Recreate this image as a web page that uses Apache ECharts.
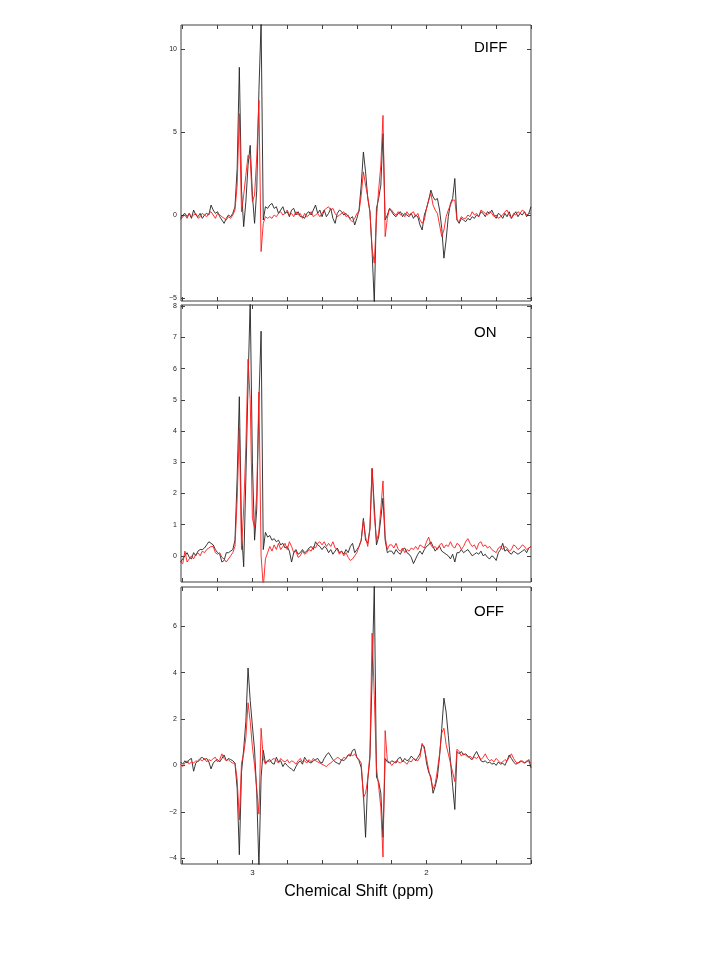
<!DOCTYPE html>
<html>
<head>
<meta charset="utf-8">
<title>DIFF / ON / OFF spectra</title>
<script src="https://cdn.jsdelivr.net/npm/echarts@6/dist/echarts.min.js"></script>
<style>
  html, body { margin: 0; padding: 0; background: #fff; }
  #chart { width: 720px; height: 960px; }
</style>
</head>
<body>
<div id="chart"></div>
<script>
// ppm grid: first point and spacing of the sampled spectrum
const ppmStart = 3.4125;
const ppmStep = 0.0125;

const diffBlack = [
  -0.2, 0.0, 0.1, -0.1, 0.1, -0.2, 0.3, 0.0, -0.1, 0.1, -0.2, 0.0, 0.1, 0.0, 0.6, 0.3, 0.1, 0.2, -0.1, -0.3, -0.5, -0.2, 0.0, -0.1, 0.1,
  0.5, 2.8, 8.9, 1.5, -0.7, 0.8, 3.0, 4.2, 1.2, -0.5, 1.5, 7.5, 11.6, -0.3, 0.5, 0.4,
  0.6, 0.7, 0.4, 0.5, 0.1, 0.3, 0.5, 0.1, 0.2, -0.1, 0.3, 0.4, 0.0, 0.2, -0.1,
  -0.1, -0.2, 0.1, 0.2, 0.0, 0.3, 0.6, 0.1, 0.3, -0.1, 0.3, -0.1, 0.1, 0.4, -0.2, -0.5, 0.1, 0.3, 0.2, 0.0, 0.1, -0.1, -0.2, -0.1, -0.6, -0.2,
  0.3, 1.8, 3.8, 2.6, 1.0, 0.2, -2.2, -5.3, 0.4, 1.0, 1.8, 4.9, -0.3, 0.0, 0.4,
  0.2, 0.0, -0.1, 0.1, 0.2, -0.1, 0.1, 0.0, -0.1, 0.1, -0.2, 0.0, -0.1, -0.6,
  -0.9, 0.0, 0.4, 0.9, 1.5, 1.1, 0.9, 1.0, 0.3, -0.8, -2.6, -1.5, -0.1, 0.7, 1.0, 2.2, -0.3, -0.5, -0.2, -0.3,
  -0.4, -0.2, -0.3, -0.1, -0.2, 0.0, -0.1, 0.2, 0.1, -0.1, 0.2, 0.1, 0.3, 0.0, -0.2, 0.1, 0.0, -0.2, 0.1, -0.1, 0.2, -0.2, 0.0, 0.2, -0.1, 0.1, 0.0, 0.2, -0.1, 0.1, 0.5
];
const diffRed = [
  -0.3, -0.1, 0.0, -0.2, 0.1, -0.1, 0.0, 0.1, -0.2, -0.1, 0.1, 0.0, -0.1, 0.1, 0.2, 0.0, -0.2, 0.1, 0.0, -0.1, -0.2, -0.3, -0.1, -0.2, 0.0,
  0.3, 1.8, 6.1, 0.2, 1.2, 2.4, 3.6, 3.4, 0.8, 1.2, 3.5, 6.9, -2.2, -0.5, -0.1, -0.2,
  -0.1, -0.2, 0.0, -0.1, 0.1, 0.2, 0.0, 0.1, 0.3, 0.0, 0.1, -0.1, 0.2, 0.0, 0.1,
  -0.2, 0.1, -0.1, 0.0, 0.2, -0.1, 0.0, 0.1, -0.1, 0.1, 0.3, 0.4, 0.5, 0.3, 0.4, 0.1, -0.1, 0.0, 0.1, 0.2, -0.1, 0.0, -0.3, -0.4, -0.2, 0.1,
  0.2, 1.2, 2.6, 1.8, 1.1, 0.2, -2.0, -2.9, -0.2, 1.5, 3.0, 6.0, -1.3, -0.2, 0.4,
  0.3, 0.1, 0.0, 0.2, 0.0, 0.1, -0.1, 0.2, 0.0, 0.1, 0.2, -0.1, 0.1, -0.3,
  -0.5, -0.3, 0.4, 0.9, 1.3, 0.6, 0.3, 0.1, -0.6, -1.3, -0.9, -0.1, 0.3, 0.6, 0.9, 0.9, -0.3, -0.4, -0.1, -0.2,
  -0.2, 0.0, -0.1, 0.2, 0.0, 0.1, -0.1, 0.3, 0.2, 0.1, 0.0, 0.2, 0.1, -0.1, 0.0, -0.2, -0.1, 0.0, 0.2, 0.3, 0.0, -0.2, 0.1, 0.0, 0.2, 0.1, 0.3, 0.2, 0.0, 0.1, 0.1
];

const onBlack = [
  -0.2, -0.1, 0.0, 0.1, -0.05, -0.1, 0.1, 0.0, 0.15, 0.2, 0.2, 0.25, 0.35, 0.45, 0.4, 0.35, 0.2, 0.1, 0.05, -0.2, -0.15, 0.1, 0.1, 0.15, 0.2,
  0.5, 2.5, 5.1, 0.8, -0.35, 2.5, 5.5, 8.2, 3.0, 0.5, 1.5, 5.0, 7.2, 0.2, 0.75, 0.6,
  0.65, 0.5, 0.55, 0.45, 0.5, 0.35, 0.4, 0.25, 0.3, 0.15, -0.2, 0.1, 0.2, 0.05, 0.1, 0.2, 0.1, 0.15, 0.25, 0.3,
  0.2, 0.45, 0.35, 0.3, 0.2, 0.3, 0.25, 0.1, 0.2, 0.05, 0.15, 0.25, 0.1, 0.15, 0.05, 0.2, 0.1, 0.3, 0.4, 0.1, 0.2,
  0.3, 0.5, 1.2, 0.5, 0.4, 0.85, 2.8, 1.6, 0.35, 0.6, 1.2, 1.85, 0.5, 0.1, 0.15,
  0.15, 0.05, 0.2, 0.1, 0.05, 0.2, 0.25, 0.1, 0.05, -0.05, -0.25, -0.1, 0.05, 0.15, 0.05, 0.2, 0.3, 0.35, 0.45, 0.3,
  0.15, 0.25, 0.3, 0.15, 0.1, 0.05, 0.0, -0.1, 0.05, -0.2, 0.1, 0.1, 0.2, 0.1, 0.15, 0.2, 0.1, 0.0, 0.05, 0.1,
  0.05, 0.15, 0.0, 0.05, -0.05, -0.1, 0.0, -0.05, -0.15, 0.1, 0.2, 0.4, 0.15, 0.2, 0.1, 0.05, 0.15, 0.1, 0.05, 0.1,
  0.15, 0.2, 0.1, 0.25, 0.3
];
const onRed = [
  -0.2, -0.25, 0.15, -0.2, -0.1, 0.0, -0.1, 0.05, 0.1, 0.0, 0.15, 0.1, 0.2, 0.25, 0.3, 0.3, 0.1, 0.05, 0.1, -0.05, -0.1, -0.2, -0.1, 0.0, 0.1,
  0.3, 1.8, 4.1, 0.2, 1.5, 3.5, 6.3, 5.0, 1.2, 0.9, 2.0, 5.25, 0.0, -1.0, -0.1, 0.1,
  0.3, 0.15, 0.35, 0.2, 0.4, 0.2, 0.3, 0.4, 0.2, 0.45, 0.3, 0.1, 0.15, -0.05, 0.0, 0.15, 0.05, 0.1, 0.2, 0.15,
  0.3, 0.25, 0.4, 0.45, 0.35, 0.45, 0.3, 0.4, 0.3, 0.45, 0.25, 0.2, 0.05, 0.15, 0.0, 0.1, -0.05, -0.15, -0.1, 0.0, 0.1,
  0.3, 0.5, 1.15, 0.6, 0.3, 0.9, 2.8, 1.3, 0.5, 0.7, 1.5, 2.4, 0.6, 0.2, 0.35,
  0.35, 0.25, 0.4, 0.2, 0.15, 0.25, 0.1, 0.2, 0.15, 0.25, 0.2, 0.3, 0.2, 0.35, 0.3, 0.25, 0.45, 0.6, 0.35, 0.25,
  0.3, 0.2, 0.35, 0.4, 0.25, 0.35, 0.3, 0.45, 0.3, 0.25, 0.4, 0.35, 0.2, 0.3, 0.45, 0.55, 0.4, 0.3, 0.35, 0.2,
  0.4, 0.45, 0.3, 0.35, 0.25, 0.3, 0.2, 0.15, 0.1, 0.25, 0.3, 0.2, 0.3, 0.25, 0.15, 0.2, 0.35, 0.3, 0.2, 0.25,
  0.35, 0.3, 0.2, 0.25, 0.3
];

const offBlack = [
  0.15, 0.05, 0.2, 0.1, 0.25, 0.3, -0.25, 0.1, 0.2, 0.3, 0.35, 0.25, 0.3, 0.15, -0.15, 0.1, 0.2, 0.25, 0.15, 0.3, 0.45, 0.2, 0.3, 0.25, 0.2,
  0.1, -1.0, -3.85, -0.3, 0.7, 1.9, 4.2, 2.8, 1.7, 0.66, -1.2, -4.4, -0.5, 0.65, 0.1, 0.2,
  0.25, 0.1, 0.05, 0.35, 0.15, 0.2, -0.05, 0.1, 0.0, -0.1, -0.15, -0.25, -0.05, 0.1, 0.2, 0.05, 0.35, 0.2, 0.15, 0.1,
  0.2, 0.25, 0.3, 0.15, 0.1, 0.3, 0.45, 0.55, 0.4, 0.25, 0.15, 0.1, 0.05, 0.25, 0.2, 0.3, 0.45, 0.4, 0.65, 0.7, 0.35,
  0.2, -0.1, -1.2, -3.1, -0.6, 0.3, 3.8, 7.8, -0.5, -0.7, -1.2, -3.1, 0.3, 0.15, 0.1,
  0.2, 0.15, 0.1, 0.3, 0.35, 0.15, 0.3, 0.2, 0.25, 0.4, 0.3, 0.2, 0.35, 0.5,
  0.9, 0.8, 0.1, -0.3, -0.5, -1.2, -0.9, -0.5, 0.4, 1.6, 2.9, 2.3, 1.3, 0.2, -0.9, -1.9, 0.6, 0.5, 0.6, 0.45,
  0.5, 0.4, 0.3, 0.25, 0.45, 0.6, 0.4, 0.2, 0.15, 0.2, 0.1, 0.15, 0.05, 0.1, 0.0, 0.15, 0.05, 0.1, 0.0, 0.2, 0.45, 0.3, 0.15, 0.05, 0.1, 0.15, 0.2, 0.1, 0.15, 0.25, -0.1
];
const offRed = [
  0.05, -0.05, 0.1, 0.2, 0.05, 0.15, 0.1, 0.2, 0.15, 0.25, 0.2, 0.3, 0.15, 0.25, 0.2, 0.3, 0.35, 0.15, 0.25, 0.5, 0.3, 0.2, 0.25, 0.15, 0.1,
  0.1, -0.6, -2.35, 0.1, 0.5, 1.2, 2.7, 1.9, 0.8, 0.0, -1.0, -2.1, 1.6, 0.3, 0.05, 0.2,
  0.15, 0.25, 0.3, 0.2, 0.1, 0.3, 0.2, 0.15, 0.25, 0.1, 0.2, 0.15, 0.05, 0.2, 0.3, 0.15, 0.2, 0.1, 0.25, 0.15,
  0.3, 0.2, 0.15, 0.1, 0.05, 0.0, -0.05, 0.05, 0.1, 0.2, 0.25, 0.35, 0.3, 0.2, 0.35, 0.3, 0.45, 0.5, 0.4, 0.5, 0.35,
  0.25, 0.1, -1.4, -1.2, -0.6, 0.5, 5.7, 3.0, -0.1, -0.9, -1.8, -3.95, 1.5, 0.2, 0.15,
  0.0, 0.1, 0.2, 0.15, 0.1, 0.2, 0.15, 0.05, 0.2, 0.15, 0.3, 0.25, 0.2, 0.35,
  0.95, 0.7, 0.3, -0.2, -0.6, -1.0, -0.8, -0.2, 0.5, 1.4, 1.6, 0.9, 0.5, 0.1, -0.3, -0.7, 0.7, 0.6, 0.4, 0.5,
  0.45, 0.35, 0.4, 0.3, 0.35, 0.3, 0.4, 0.25, 0.35, 0.5, 0.3, 0.2, 0.25, 0.15, 0.3, 0.2, 0.1, 0.15, 0.25, 0.2, 0.35, 0.5, 0.3, 0.15, 0.1, 0.2, 0.15, 0.1, 0.2, 0.15, 0.1
];

const xTicks = [3.4, 3.2, 3.0, 2.8, 2.6, 2.4, 2.2, 2.0, 1.8, 1.6, 1.4];
const xLabels = [3, 2];
const yTicksDiff = [-5, 0, 5, 10];
const yTicksOn = [0, 1, 2, 3, 4, 5, 6, 7, 8];
const yTicksOff = [-4, -2, 0, 2, 4, 6];

const ppm = diffBlack.map((_, i) => +(ppmStart - i * ppmStep).toFixed(4));
const pairs = (vals) => vals.map((v, i) => [ppm[i], v]);

const panels = [
  { label: 'DIFF', black: diffBlack, red: diffRed, ticks: yTicksDiff, top: 25, height: 276, min: -5.18, max: 11.45, labelY: 48 },
  { label: 'ON', black: onBlack, red: onRed, ticks: yTicksOn, top: 305, height: 277, min: -0.84, max: 8.04, labelY: 333 },
  { label: 'OFF', black: offBlack, red: offRed, ticks: yTicksOff, top: 587, height: 277, min: -4.25, max: 7.69, labelY: 612 },
];

const FONT = 'Liberation Sans, Arial, Helvetica, sans-serif';
const AXIS_COLOR = '#404040';

const grids = [];
const xAxes = [];
const yAxes = [];
const series = [];
const texts = [];

panels.forEach((p, k) => {
  const isLast = k === panels.length - 1;
  grids.push({
    left: 181, top: p.top, width: 350, height: p.height,
    show: true, borderColor: AXIS_COLOR, borderWidth: 1, backgroundColor: 'transparent',
  });
  ['bottom', 'top'].forEach((pos) => {
    xAxes.push({
      gridIndex: k, type: 'value', position: pos, inverse: true,
      min: 1.40, max: 3.41,
      axisLine: { show: false, onZero: false },
      splitLine: { show: false },
      axisTick: { show: true, inside: true, length: 4, customValues: xTicks, lineStyle: { color: AXIS_COLOR } },
      axisLabel: {
        show: isLast && pos === 'bottom', customValues: xLabels, margin: 5,
        fontSize: 8, color: '#222', fontFamily: FONT,
        formatter: (v) => String(Math.round(v)),
      },
      name: isLast && pos === 'bottom' ? 'Chemical Shift (ppm)' : '',
      nameLocation: 'middle', nameGap: 20,
      nameTextStyle: { fontSize: 16, color: '#000', fontFamily: FONT, padding: [0, 0, 0, 6] },
    });
  });
  ['left', 'right'].forEach((pos) => {
    yAxes.push({
      gridIndex: k, type: 'value', position: pos,
      min: p.min, max: p.max,
      axisLine: { show: false, onZero: false },
      splitLine: { show: false },
      axisTick: { show: true, inside: true, length: 4, customValues: p.ticks, lineStyle: { color: AXIS_COLOR } },
      axisLabel: {
        show: pos === 'left', customValues: p.ticks, margin: 4,
        fontSize: 7, color: '#222', fontFamily: FONT,
        formatter: (v) => String(v).replace('-', '\u2212'),
      },
    });
  });
  series.push({
    type: 'line', xAxisIndex: 2 * k, yAxisIndex: 2 * k,
    data: pairs(p.black), symbol: 'none', clip: true,
    lineStyle: { width: 0.9, color: '#222' },
  });
  series.push({
    type: 'line', xAxisIndex: 2 * k, yAxisIndex: 2 * k,
    data: pairs(p.red), symbol: 'none', clip: true,
    lineStyle: { width: 0.9, color: '#ff1a1a' },
  });
  texts.push({
    type: 'text', x: 474, y: p.labelY,
    style: { text: p.label, fontSize: 15, fontFamily: FONT, fill: '#000', verticalAlign: 'middle', textVerticalAlign: 'middle' },
  });
});

const chart = echarts.init(document.getElementById('chart'), null, { renderer: 'canvas' });
chart.setOption({
  animation: false,
  backgroundColor: '#fff',
  grid: grids,
  xAxis: xAxes,
  yAxis: yAxes,
  series: series,
  graphic: texts,
});
</script>
</body>
</html>
